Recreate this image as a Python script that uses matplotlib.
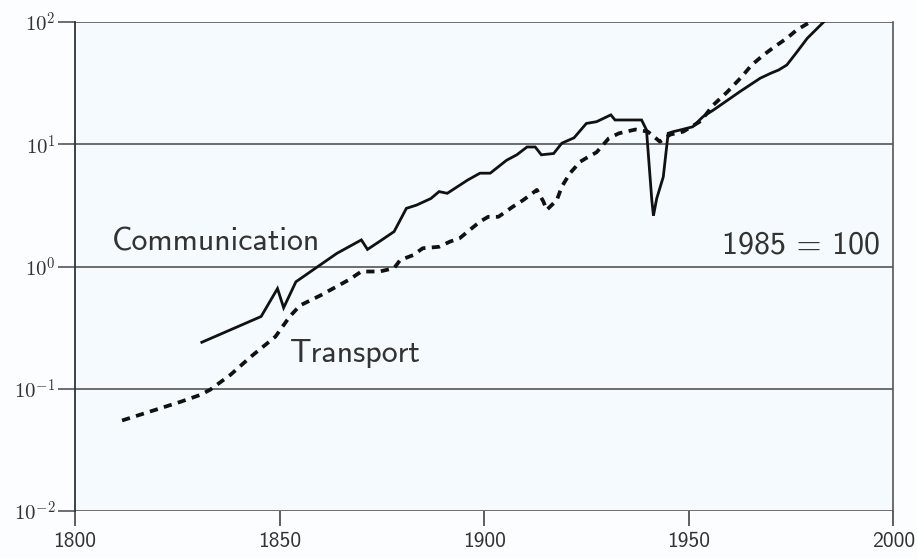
import matplotlib
matplotlib.use('Agg')
import matplotlib.pyplot as plt
import numpy as np

# values (index, 1985 = 100)
comm_years = [1831, 1845.5, 1849.5, 1851, 1854, 1864, 1870, 1871.5, 1875, 1878,
              1879.5, 1881, 1883.5, 1887, 1889, 1891, 1896, 1899, 1901.5, 1905.5, 1908,
              1910.5, 1912.5, 1914, 1917, 1919, 1922, 1925, 1927.5, 1931, 1932,
              1938.5, 1939.7, 1941, 1941.4, 1942.2, 1943.8, 1945, 1946.3, 1948, 1951,
              1953.5, 1956, 1959, 1962.5, 1967.5, 1970, 1972, 1974, 1976.5, 1979, 1983]
comm_vals = [0.24, 0.39, 0.66, 0.46, 0.75, 1.28, 1.65, 1.38, 1.65, 1.93,
             2.4, 2.99, 3.18, 3.6, 4.1, 3.97, 5.1, 5.8, 5.8, 7.4, 8.2,
             9.5, 9.5, 8.2, 8.4, 10.2, 11.3, 14.8, 15.3, 17.4, 15.8,
             15.8, 13.1, 3.5, 2.6, 3.6, 5.4, 12.3, 12.7, 13.1, 13.9,
             16.8, 19.0, 22.3, 26.9, 34.7, 38.0, 40.5, 44.5, 57.0, 73.6, 100.0]

trans_years = [1811.5, 1825.7, 1830.6, 1833, 1838, 1843, 1849, 1852.5, 1855, 1860,
               1867, 1870, 1874.5, 1878, 1879.5, 1882.7, 1885, 1889, 1891.7, 1894,
               1899, 1901, 1903.5, 1907, 1909.6, 1912.9, 1914.5, 1915.3, 1917.8, 1919,
               1921, 1923.5, 1925.5, 1927.5, 1930.5, 1933, 1937, 1940, 1943, 1945.5,
               1948.7, 1953, 1956, 1959.5, 1963, 1965.4, 1968.3, 1971, 1974, 1976.4, 1979.7]
trans_vals = [0.055, 0.078, 0.089, 0.098, 0.13, 0.183, 0.267, 0.39, 0.48, 0.58,
              0.78, 0.91, 0.91, 0.97, 1.13, 1.24, 1.41, 1.45, 1.6, 1.7,
              2.33, 2.55, 2.55, 3.08, 3.5, 4.23, 3.4, 2.9, 3.5, 4.5,
              5.8, 7.2, 7.9, 8.6, 11.2, 12.3, 13.2, 12.7, 10.5, 12.0,
              12.7, 15.5, 20.9, 26.9, 35.7, 44.5, 53.7, 62.8, 73.6, 86.0, 100.0]

x_ticks = [1800, 1850, 1900, 1950, 2000]
y_ticks = [1e-2, 1e-1, 1e0, 1e1, 1e2]
y_labels = [r'$10^{-2}$', r'$10^{-1}$', r'$10^{0}$', r'$10^{1}$', r'$10^{2}$']

plt.rcParams['mathtext.fontset'] = 'cm'

fig = plt.figure(figsize=(9.17, 5.59), dpi=100, facecolor='#fbfdfe')
ax = fig.add_axes([0.0818, 0.0859, 0.974 - 0.0818, 0.9606 - 0.0859])
ax.set_facecolor('#f4fafd')

ax.plot(comm_years, comm_vals, color='#111111', lw=2.0, solid_joinstyle='miter', zorder=3)
ax.plot(trans_years, trans_vals, color='#111111', lw=2.7, dashes=(2.2, 1.7), zorder=3)

ax.set_yscale('log')
ax.set_xlim(1800, 2000)
ax.set_ylim(1e-2, 1e2)

ax.set_xticks(x_ticks)
ax.set_xticklabels([str(t) for t in x_ticks], fontfamily='cmss10', fontsize=15.5, color='#333333')
ax.set_yticks(y_ticks)
ax.set_yticklabels(y_labels, fontsize=15, color='#333333')
ax.yaxis.set_minor_locator(matplotlib.ticker.NullLocator())

ax.tick_params(axis='y', direction='out', length=12, width=1.2, color='#555555', pad=2)
ax.tick_params(axis='x', direction='out', length=11, width=1.2, color='#444444', pad=4)

ax.grid(axis='y', color='#555555', lw=1.2)
ax.set_axisbelow(True)

for side in ['top', 'bottom']:
    ax.spines[side].set_visible(False)
ax.spines['left'].set_color('#333333')
ax.spines['left'].set_linewidth(1.3)
ax.spines['right'].set_color('#555555')
ax.spines['right'].set_linewidth(1.2)

ax.text(1809.0, 1.6, 'Communication', fontfamily='cmss10', fontsize=23,
        color='#333333', ha='left', va='center')
ax.text(1852.5, 0.195, 'Transport', fontfamily='cmss10', fontsize=23,
        color='#333333', ha='left', va='center')
ax.text(1996.8, 1.5, '1985 = 100', fontfamily='cmss10', fontsize=23,
        color='#333333', ha='right', va='center')

fig.savefig('out.png', dpi=100, facecolor=fig.get_facecolor())
